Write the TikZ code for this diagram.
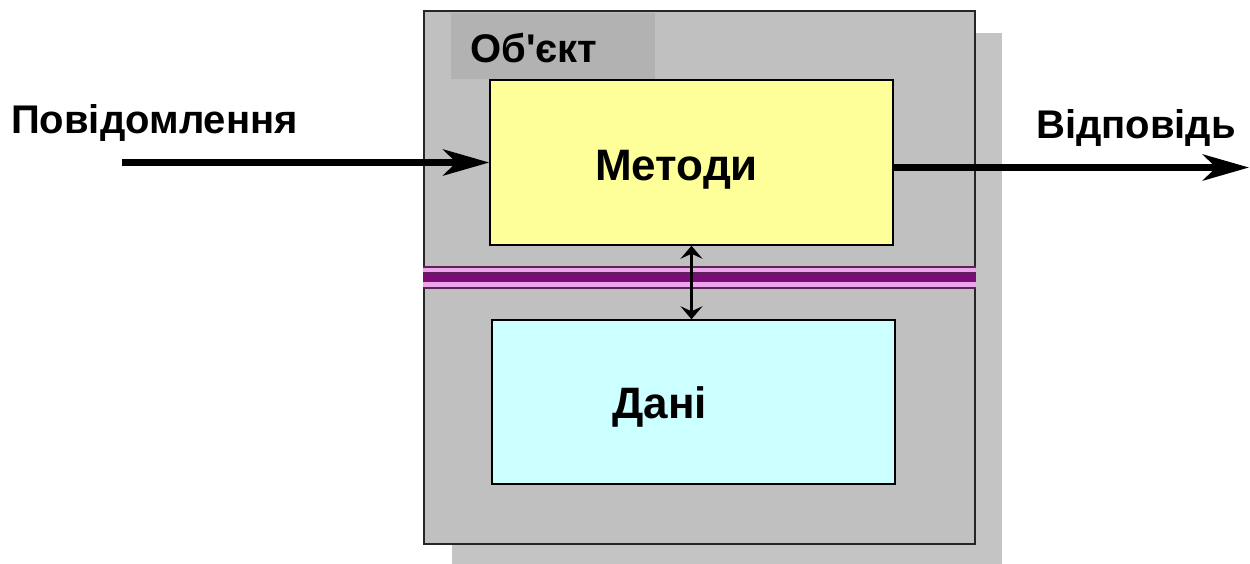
\documentclass[tikz,border=0pt]{standalone}
\usepackage{fontspec}
\setmainfont{Liberation Sans}[Ligatures=TeXOff]
\usetikzlibrary{arrows.meta}
\definecolor{boxgray}{HTML}{C0C0C0}
\definecolor{shadowgray}{HTML}{C4C4C4}
\definecolor{titlegray}{HTML}{B2B2B2}
\definecolor{methodfill}{HTML}{FFFF99}
\definecolor{datafill}{HTML}{CCFFFF}
\definecolor{banddark}{HTML}{5A2458}
\definecolor{bandpink}{HTML}{EEA4EA}
\definecolor{bandpurple}{HTML}{7A0C76}
\tikzset{
  lbl/.style={inner sep=0pt, font=\fontsize{40}{44}\selectfont\bfseries},
  biglbl/.style={inner sep=0pt, font=\fontsize{44}{48}\selectfont\bfseries},
  panel/.style={draw=black, line width=1.5pt, inner sep=0pt, rectangle},
  bigarrow/.style={line width=7pt, -{Stealth[length=46pt, width=26pt, inset=13pt]}},
  linkarrow/.style={line width=2.5pt, {Stealth[length=13pt, width=22pt, inset=5pt]}-{Stealth[length=13pt, width=22pt, inset=5pt]}}
}
\begin{document}
\begin{tikzpicture}[x=1pt, y=-1pt]
  \useasboundingbox (0,0) rectangle (1250,563);
  \begin{scope}
    \clip (0,0) rectangle (1250,563);
    % drop shadow of the object box
    \fill[shadowgray] (452,33) rectangle (1002,570);
  \end{scope}
  % object box
  \node[panel, fill=boxgray, draw=black!85, minimum width=551pt, minimum height=533pt] (obj) at (699.5,277.5) {};
  % title tab
  \node[fill=titlegray, inner sep=0pt, minimum width=204pt, minimum height=66pt] (tab) at (553,46) {};
  \node[lbl, anchor=base west] (title) at (470,62) {Об'єкт};
  % methods and data
  \node[panel, fill=methodfill, minimum width=403pt, minimum height=165pt] (methods) at (691.5,162.5) {};
  \node[panel, fill=datafill, minimum width=403pt, minimum height=164pt] (data) at (693.5,402) {};
  \node[biglbl, anchor=base west] (mtext) at (595,180) {Методи};
  \node[biglbl, anchor=base west] (dtext) at (612,418) {Дані};
  % encapsulation band
  \fill[banddark] (obj.west |- 0,266) rectangle (obj.east |- 0,288.5);
  \fill[bandpink] (obj.west |- 0,267.5) rectangle (obj.east |- 0,272.3);
  \fill[bandpink] (obj.west |- 0,282) rectangle (obj.east |- 0,287);
  \fill[bandpurple] (obj.west |- 0,273.3) rectangle (obj.east |- 0,280.8);
  % link between methods and data
  \draw[linkarrow] (methods.south) -- (methods.south |- data.north);
  % incoming message and response
  \node[lbl, anchor=base west] (msg) at (11,133) {Повідомлення};
  \node[lbl, anchor=base west] (resp) at (1036,138) {Відповідь};
  \coordinate (msgstart) at (122,162.5);
  \coordinate (respend) at (1249,167.5);
  \draw[bigarrow] (msgstart) -- (methods.west);
  \draw[bigarrow] ([yshift=-5pt]methods.east) -- (respend);
\end{tikzpicture}
\end{document}
